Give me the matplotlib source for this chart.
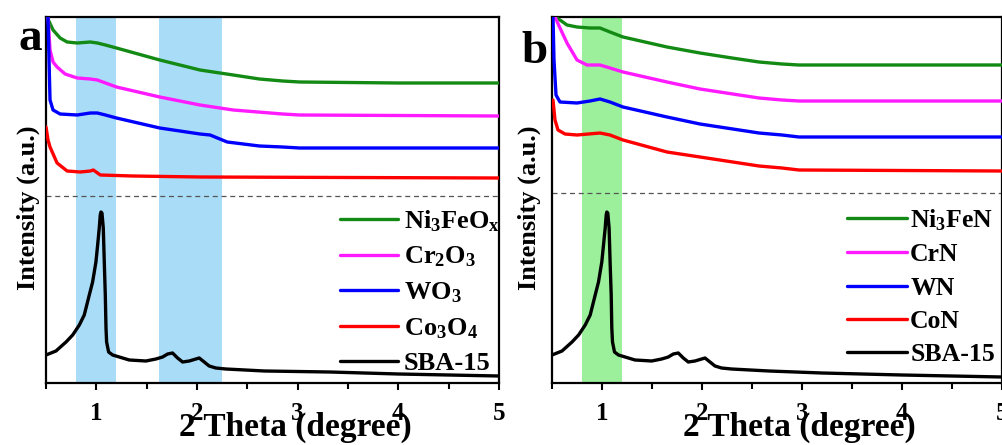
import matplotlib
matplotlib.use("Agg")
import matplotlib.pyplot as plt
from matplotlib.ticker import MultipleLocator

plt.rcParams['font.family'] = ['Liberation Serif', 'DejaVu Serif']
plt.rcParams['font.weight'] = 'bold'
plt.rcParams['mathtext.fontset'] = 'custom'
plt.rcParams['mathtext.rm'] = 'Liberation Serif:bold'
plt.rcParams['mathtext.bf'] = 'Liberation Serif:bold'
plt.rcParams['mathtext.it'] = 'Liberation Serif:bold'
plt.rcParams['mathtext.default'] = 'bf'

# ---------------- Panel a data ----------------
a_ni_x = [0.51, 0.57, 0.64, 0.71, 0.81, 0.94, 1.01, 1.09, 1.2, 1.63, 2.03, 2.36, 2.62, 2.85, 3.02, 4.0, 5.0]
a_ni_y = [366, 353, 345, 341, 340, 341, 340, 338, 335, 323, 313, 308, 304, 302, 301, 300, 300]
a_cr_x = [0.52, 0.54, 0.57, 0.61, 0.69, 0.81, 0.94, 1.01, 1.2, 1.63, 2.03, 2.36, 2.85, 3.02, 5.0]
a_cr_y = [366, 333, 321, 316, 309, 305, 304, 303, 296, 286, 278, 273, 269, 268, 267]
a_w_x = [0.52, 0.53, 0.54, 0.57, 0.64, 0.81, 0.94, 1.01, 1.09, 1.2, 1.63, 2.03, 2.13, 2.3, 2.62, 2.85, 3.02, 5.0]
a_w_y = [366, 323, 283, 273, 269, 268, 270, 270, 268, 265, 255, 249, 248, 241, 237, 236, 235, 235]
a_co_x = [0.5, 0.52, 0.54, 0.61, 0.71, 0.84, 0.94, 0.97, 1.04, 1.36, 2.03, 5.0]
a_co_y = [256, 243, 236, 220, 212, 211, 212, 213, 208, 207, 206, 205]
a_sba_x = [0.5, 0.599, 0.699, 0.765, 0.831, 0.88, 0.93, 0.963, 0.996, 1.013, 1.029, 1.039, 1.046, 1.056,
           1.069, 1.079, 1.089, 1.096, 1.102, 1.122, 1.162, 1.327, 1.493, 1.592, 1.658, 1.708, 1.757,
           1.807, 1.857, 1.923, 2.022, 2.072, 2.121, 2.187, 2.287, 2.67, 3.32, 4.0, 5.0]
a_sba_y = [28, 32, 41, 48, 58, 68, 88, 101, 121, 138, 155, 168, 171, 170,
           155, 121, 88, 55, 41, 31, 28, 23, 22, 24, 26, 29, 30,
           25, 21, 22, 25, 21, 17, 15, 14, 12, 11, 9, 7]
a_labels = ['Ni$_{3}$FeO$_{x}$', 'Cr$_{2}$O$_{3}$', 'WO$_{3}$', 'Co$_{3}$O$_{4}$', 'SBA-15']
a_dash = 187
a_spans = [(0.8, 1.2), (1.62, 2.25)]

# ---------------- Panel b data ----------------
b_ni_x = [0.51, 0.58, 0.65, 0.75, 0.88, 0.98, 1.08, 1.21, 1.65, 1.98, 2.3, 2.57, 2.8, 2.97, 5.0]
b_ni_y = [367, 363, 358, 356, 355, 355, 351, 346, 336, 330, 325, 321, 319, 318, 318]
b_cr_x = [0.53, 0.58, 0.65, 0.75, 0.85, 0.98, 1.08, 1.21, 1.65, 1.98, 2.57, 2.8, 2.97, 5.0]
b_cr_y = [366, 355, 340, 323, 318, 318, 315, 311, 301, 294, 285, 283, 282, 282]
b_w_x = [0.51, 0.52, 0.54, 0.58, 0.75, 0.88, 0.98, 1.08, 1.21, 1.65, 1.98, 2.57, 2.8, 2.97, 5.0]
b_w_y = [366, 323, 288, 281, 280, 282, 284, 281, 276, 266, 259, 250, 248, 246, 246]
b_co_x = [0.51, 0.53, 0.56, 0.63, 0.75, 0.98, 1.08, 1.21, 1.65, 1.98, 2.57, 2.8, 2.97, 5.0]
b_co_y = [283, 263, 253, 249, 248, 250, 248, 243, 231, 226, 217, 215, 213, 212]
b_sba_x = [0.5, 0.6, 0.7, 0.766, 0.832, 0.882, 0.932, 0.965, 0.998, 1.015, 1.032, 1.042, 1.048, 1.058,
           1.071, 1.081, 1.092, 1.098, 1.105, 1.125, 1.165, 1.33, 1.497, 1.597, 1.663, 1.713, 1.763,
           1.813, 1.863, 1.93, 2.03, 2.08, 2.13, 2.195, 2.295, 2.67, 3.2, 4.0, 5.0]
b_sba_y = [28, 32, 41, 48, 58, 68, 88, 101, 121, 138, 155, 168, 171, 170,
           155, 121, 88, 55, 41, 31, 28, 23, 22, 24, 26, 29, 30,
           25, 21, 22, 25, 21, 17, 15, 14, 12, 10, 8, 6]
b_labels = ['Ni$_{3}$FeN', 'CrN', 'WN', 'CoN', 'SBA-15']
b_dash = 190
b_spans = [(0.8, 1.2)]

colors = ['#138a13', '#ff1aff', '#0000ff', '#ff0000', '#000000']

fig = plt.figure(figsize=(10.03, 4.45), dpi=100)
W, H = 1003, 445
ax1 = fig.add_axes([46 / W, 62 / H, 453 / W, 366 / H])
ax2 = fig.add_axes([552 / W, 62 / H, 450 / W, 366 / H])


def draw(ax, xs, ys, labels, dash, spans, spancolor, legfs, legsp, anchor, hlen, tpad):
    for lo, hi in spans:
        ax.axvspan(lo, hi, color=spancolor, lw=0, zorder=0)
    ax.axhline(dash, color='#555555', lw=0.9, ls=(0, (4, 3)), zorder=1)
    for x, y, c, lab in zip(xs, ys, colors, labels):
        ax.plot(x, y, color=c, lw=2.4, label=lab, zorder=3,
                solid_joinstyle='round', solid_capstyle='round')
    ax.set_xlim(0.5, 5)
    ax.set_ylim(0, 366)
    ax.set_yticks([])
    ax.xaxis.set_major_locator(MultipleLocator(1))
    ax.xaxis.set_minor_locator(MultipleLocator(0.5))
    ax.tick_params(axis='x', which='both', direction='out', width=1.5, labelsize=18, pad=9)
    ax.tick_params(axis='x', which='major', length=5)
    ax.tick_params(axis='x', which='minor', length=4)
    for sp in ax.spines.values():
        sp.set_linewidth(1.6)
    ax.set_xlabel('2 Theta (degree)', fontsize=24, fontweight='bold')
    ax.xaxis.label.set_va('center')
    ax.set_ylabel('Intensity (a.u.)', fontsize=19, fontweight='bold')
    ax.yaxis.label.set_va('center')
    leg = ax.legend(loc='lower left', bbox_to_anchor=anchor, frameon=False,
                    fontsize=legfs, handlelength=hlen, handletextpad=tpad,
                    labelspacing=legsp, borderaxespad=0, borderpad=0)
    for ln in leg.get_lines():
        ln.set_linewidth(2.4)
    return leg


draw(ax1, [a_ni_x, a_cr_x, a_w_x, a_co_x, a_sba_x], [a_ni_y, a_cr_y, a_w_y, a_co_y, a_sba_y],
     a_labels, a_dash, a_spans, '#a9dcf7', 19, 0.42, (0.649, 0.021), 2.2, 0.22)
draw(ax2, [b_ni_x, b_cr_x, b_w_x, b_co_x, b_sba_x], [b_ni_y, b_cr_y, b_w_y, b_co_y, b_sba_y],
     b_labels, b_dash, b_spans, '#9cf09c', 18.5, 0.40, (0.656, 0.046), 2.33, 0.12)

ax1.xaxis.set_label_coords(0.55, -0.12)
ax2.xaxis.set_label_coords(0.549, -0.12)
ax1.yaxis.set_label_coords(-0.038, 0.478)
ax2.yaxis.set_label_coords(-0.05, 0.478)

fig.text(18 / W, 1 - 50 / H, 'a', fontsize=34, fontweight='bold', ha='left', va='baseline')
fig.text(521 / W, 1 - 63 / H, 'b', fontsize=34, fontweight='bold', ha='left', va='baseline')

fig.savefig('out.png', dpi=100)
